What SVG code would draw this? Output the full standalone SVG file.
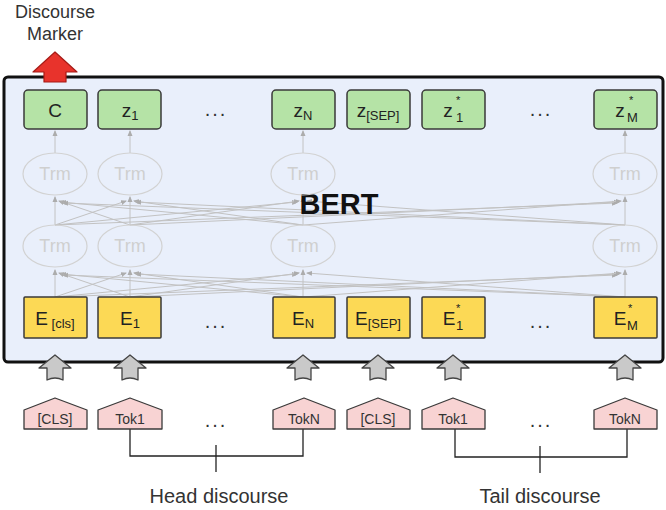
<svg xmlns="http://www.w3.org/2000/svg" width="666" height="510" viewBox="0 0 666 510">
<defs>
<style>
text{font-family:"Liberation Sans",Arial,sans-serif;}
.g{fill:#b5e3a6;stroke:#3a3a3a;stroke-width:1.5;}
.y{fill:#fcd955;stroke:#3a3a3a;stroke-width:1.5;}
.p{fill:#f8d3d3;stroke:#3a3a3a;stroke-width:1.3;stroke-linejoin:round;}
.ga{fill:#c9c9c9;stroke:#444;stroke-width:1.3;stroke-linejoin:round;}
.trm{fill:none;stroke:#d2d2d2;stroke-width:1.2;}
.tt{fill:#cfcfcf;font-size:18px;text-anchor:middle;}
.c{stroke:#c2c2c2;stroke-width:1;fill:none;marker-end:url(#ah);}
.lbl{font-size:19px;fill:#222;text-anchor:middle;}
.dots{font-size:20px;fill:#333;text-anchor:middle;letter-spacing:2px;}
.tok{font-size:14px;fill:#333;text-anchor:middle;}
.br{stroke:#222;stroke-width:1.3;fill:none;}
.sup{font-size:11px;fill:#222;}
.sub{font-size:13px;fill:#222;}
</style>
<marker id="ah" markerWidth="6" markerHeight="6" refX="5" refY="3" orient="auto" markerUnits="userSpaceOnUse"><path d="M0,0.5 L6,3 L0,5.5z" fill="#acacac"/></marker>
</defs>
<rect x="0" y="0" width="666" height="510" fill="#ffffff"/>

<g id="output-label">
<text x="55" y="18" font-size="18" fill="#333" text-anchor="middle">Discourse</text>
<text x="55" y="40" font-size="18" fill="#333" text-anchor="middle">Marker</text>
</g>

<g id="bert-box">
<rect x="4" y="77" width="659" height="285" rx="4" fill="#e9effb" stroke="#111" stroke-width="3"/>
</g>

<g id="red-arrow">
<path d="M55,52 L77,72 L66,72 L66,82 L44,82 L44,72 L33,72 Z" fill="#e8332c" stroke="#a61b16" stroke-width="1.2" stroke-linejoin="round"/>
</g>

<g id="connectors">
<line class="c" x1="55" y1="153" x2="55" y2="131"/>
<line class="c" x1="130" y1="153" x2="130" y2="131"/>
<line class="c" x1="303" y1="153" x2="303" y2="131"/>
<line class="c" x1="625" y1="153" x2="625" y2="131"/>
<line class="c" x1="55" y1="225" x2="55" y2="197"/>
<line class="c" x1="130" y1="225" x2="59" y2="201"/>
<line class="c" x1="303" y1="225" x2="61" y2="202"/>
<line class="c" x1="625" y1="225" x2="63" y2="203"/>
<line class="c" x1="130" y1="225" x2="130" y2="197"/>
<line class="c" x1="55" y1="225" x2="126" y2="201"/>
<line class="c" x1="303" y1="225" x2="134" y2="201"/>
<line class="c" x1="625" y1="225" x2="136" y2="202"/>
<line class="c" x1="303" y1="225" x2="303" y2="197"/>
<line class="c" x1="55" y1="225" x2="297" y2="202"/>
<line class="c" x1="130" y1="225" x2="299" y2="201"/>
<line class="c" x1="625" y1="225" x2="307" y2="201"/>
<line class="c" x1="625" y1="225" x2="625" y2="197"/>
<line class="c" x1="55" y1="225" x2="617" y2="203"/>
<line class="c" x1="130" y1="225" x2="619" y2="202"/>
<line class="c" x1="303" y1="225" x2="621" y2="201"/>
<line class="c" x1="55" y1="297" x2="55" y2="270"/>
<line class="c" x1="130" y1="297" x2="59" y2="273"/>
<line class="c" x1="303" y1="297" x2="61" y2="274"/>
<line class="c" x1="625" y1="297" x2="63" y2="275"/>
<line class="c" x1="130" y1="297" x2="130" y2="270"/>
<line class="c" x1="55" y1="297" x2="126" y2="273"/>
<line class="c" x1="303" y1="297" x2="134" y2="273"/>
<line class="c" x1="625" y1="297" x2="136" y2="274"/>
<line class="c" x1="303" y1="297" x2="303" y2="270"/>
<line class="c" x1="55" y1="297" x2="297" y2="274"/>
<line class="c" x1="130" y1="297" x2="299" y2="273"/>
<line class="c" x1="625" y1="297" x2="307" y2="273"/>
<line class="c" x1="625" y1="297" x2="625" y2="270"/>
<line class="c" x1="55" y1="297" x2="617" y2="275"/>
<line class="c" x1="130" y1="297" x2="619" y2="274"/>
<line class="c" x1="303" y1="297" x2="621" y2="273"/>
<path class="br" d="M130,429 V456 H303 V429"/>
<line class="br" x1="216" y1="445" x2="216" y2="472"/>
<path class="br" d="M455,429 V457 H627 V429"/>
<line class="br" x1="540" y1="446" x2="540" y2="473"/>
</g>

<g id="bert-label"><text x="339" y="214" font-size="29" font-weight="bold" fill="#111" text-anchor="middle">BERT</text></g>

<g id="trm-upper">
<ellipse class="trm" cx="55" cy="174" rx="32" ry="21"/><text class="tt" x="55" y="180">Trm</text>
<ellipse class="trm" cx="130" cy="174" rx="32" ry="21"/><text class="tt" x="130" y="180">Trm</text>
<ellipse class="trm" cx="303" cy="174" rx="32" ry="21"/><text class="tt" x="303" y="180">Trm</text>
<ellipse class="trm" cx="625" cy="174" rx="32" ry="21"/><text class="tt" x="625" y="180">Trm</text>
</g>
<g id="trm-lower">
<ellipse class="trm" cx="55" cy="246" rx="32" ry="21"/><text class="tt" x="55" y="252">Trm</text>
<ellipse class="trm" cx="130" cy="246" rx="32" ry="21"/><text class="tt" x="130" y="252">Trm</text>
<ellipse class="trm" cx="303" cy="246" rx="32" ry="21"/><text class="tt" x="303" y="252">Trm</text>
<ellipse class="trm" cx="625" cy="246" rx="32" ry="21"/><text class="tt" x="625" y="252">Trm</text>
</g>

<g id="out-C"><rect class="g" x="24" y="90" width="63" height="39" rx="4"/><text class="lbl" x="55" y="117">C</text></g>
<g id="out-z1"><rect class="g" x="98" y="90" width="63" height="39" rx="4"/><text class="lbl" x="130" y="117" font-size="21">z<tspan font-size="13" dy="3">1</tspan></text></g>
<g id="out-dots1"><text class="dots" x="216" y="116">...</text></g>
<g id="out-zN"><rect class="g" x="272" y="90" width="63" height="39" rx="4"/><text class="lbl" x="303" y="117" font-size="21">z<tspan font-size="13" dy="3">N</tspan></text></g>
<g id="out-zSEP"><rect class="g" x="347" y="90" width="63" height="39" rx="4"/><text class="lbl" x="378" y="117" font-size="21">z<tspan font-size="13" dy="3">[SEP]</tspan></text></g>
<g id="out-z1s"><rect class="g" x="422" y="90" width="63" height="39" rx="4"/><text class="lbl" x="448" y="117" font-size="21">z</text><text class="sup" x="456" y="104">*</text><text class="sub" x="456" y="122">1</text></g>
<g id="out-dots2"><text class="dots" x="541" y="116">...</text></g>
<g id="out-zMs"><rect class="g" x="594" y="90" width="63" height="39" rx="4"/><text class="lbl" x="620" y="117" font-size="21">z</text><text class="sup" x="629" y="104">*</text><text class="sub" x="627" y="122">M</text></g>

<g id="emb-cls"><rect class="y" x="24" y="297" width="63" height="41" rx="1"/><text class="lbl" x="55" y="325">E<tspan font-size="13" dy="3"> [cls]</tspan></text></g>
<g id="emb-1"><rect class="y" x="98" y="297" width="63" height="41" rx="1"/><text class="lbl" x="130" y="325">E<tspan font-size="13" dy="3">1</tspan></text></g>
<g id="emb-dots1"><text class="dots" x="216" y="328">...</text></g>
<g id="emb-N"><rect class="y" x="273" y="297" width="62" height="41" rx="1"/><text class="lbl" x="303" y="325">E<tspan font-size="13" dy="3">N</tspan></text></g>
<g id="emb-sep"><rect class="y" x="347" y="297" width="63" height="41" rx="1"/><text class="lbl" x="378" y="325">E<tspan font-size="13" dy="3">[SEP]</tspan></text></g>
<g id="emb-1s"><rect class="y" x="422" y="297" width="63" height="41" rx="1"/><text class="lbl" x="449" y="325">E</text><text class="sup" x="456" y="312">*</text><text class="sub" x="456" y="330">1</text></g>
<g id="emb-dots2"><text class="dots" x="541" y="328">...</text></g>
<g id="emb-Ms"><rect class="y" x="594" y="297" width="63" height="41" rx="1"/><text class="lbl" x="620" y="325">E</text><text class="sup" x="628" y="312">*</text><text class="sub" x="627" y="330">M</text></g>

<g id="input-arrows">
<path class="ga" d="M55,355 L71,368 L63,368 L63,380 Q55,376 47,380 L47,368 L39,368 Z"/>
<path class="ga" d="M130,355 L146,368 L138,368 L138,380 Q130,376 122,380 L122,368 L114,368 Z"/>
<path class="ga" d="M303,355 L319,368 L311,368 L311,380 Q303,376 295,380 L295,368 L287,368 Z"/>
<path class="ga" d="M378,355 L394,368 L386,368 L386,380 Q378,376 370,380 L370,368 L362,368 Z"/>
<path class="ga" d="M453,355 L469,368 L461,368 L461,380 Q453,376 445,380 L445,368 L437,368 Z"/>
<path class="ga" d="M625,355 L641,368 L633,368 L633,380 Q625,376 617,380 L617,368 L609,368 Z"/>
</g>

<g id="tok-cls1"><path class="p" d="M24,410 L55,398 L87,410 V429 H24 Z"/><text class="tok" x="55" y="424">[CLS]</text></g>
<g id="tok-1"><path class="p" d="M98,410 L130,398 L162,410 V429 H98 Z"/><text class="tok" x="130" y="424">Tok1</text></g>
<g id="tok-dots1"><text class="dots" x="216" y="427">...</text></g>
<g id="tok-N"><path class="p" d="M273,410 L304,398 L335,410 V429 H273 Z"/><text class="tok" x="304" y="424">TokN</text></g>
<g id="tok-cls2"><path class="p" d="M347,410 L378,398 L410,410 V429 H347 Z"/><text class="tok" x="378" y="424">[CLS]</text></g>
<g id="tok-1b"><path class="p" d="M422,410 L453,398 L485,410 V429 H422 Z"/><text class="tok" x="453" y="424">Tok1</text></g>
<g id="tok-dots2"><text class="dots" x="541" y="427">...</text></g>
<g id="tok-Nb"><path class="p" d="M594,410 L625,398 L657,410 V429 H594 Z"/><text class="tok" x="625" y="424">TokN</text></g>

<g id="head-label"><text x="219" y="503" font-size="20" fill="#333" text-anchor="middle">Head discourse</text></g>
<g id="tail-label"><text x="540" y="503" font-size="20" fill="#333" text-anchor="middle">Tail discourse</text></g>
</svg>
